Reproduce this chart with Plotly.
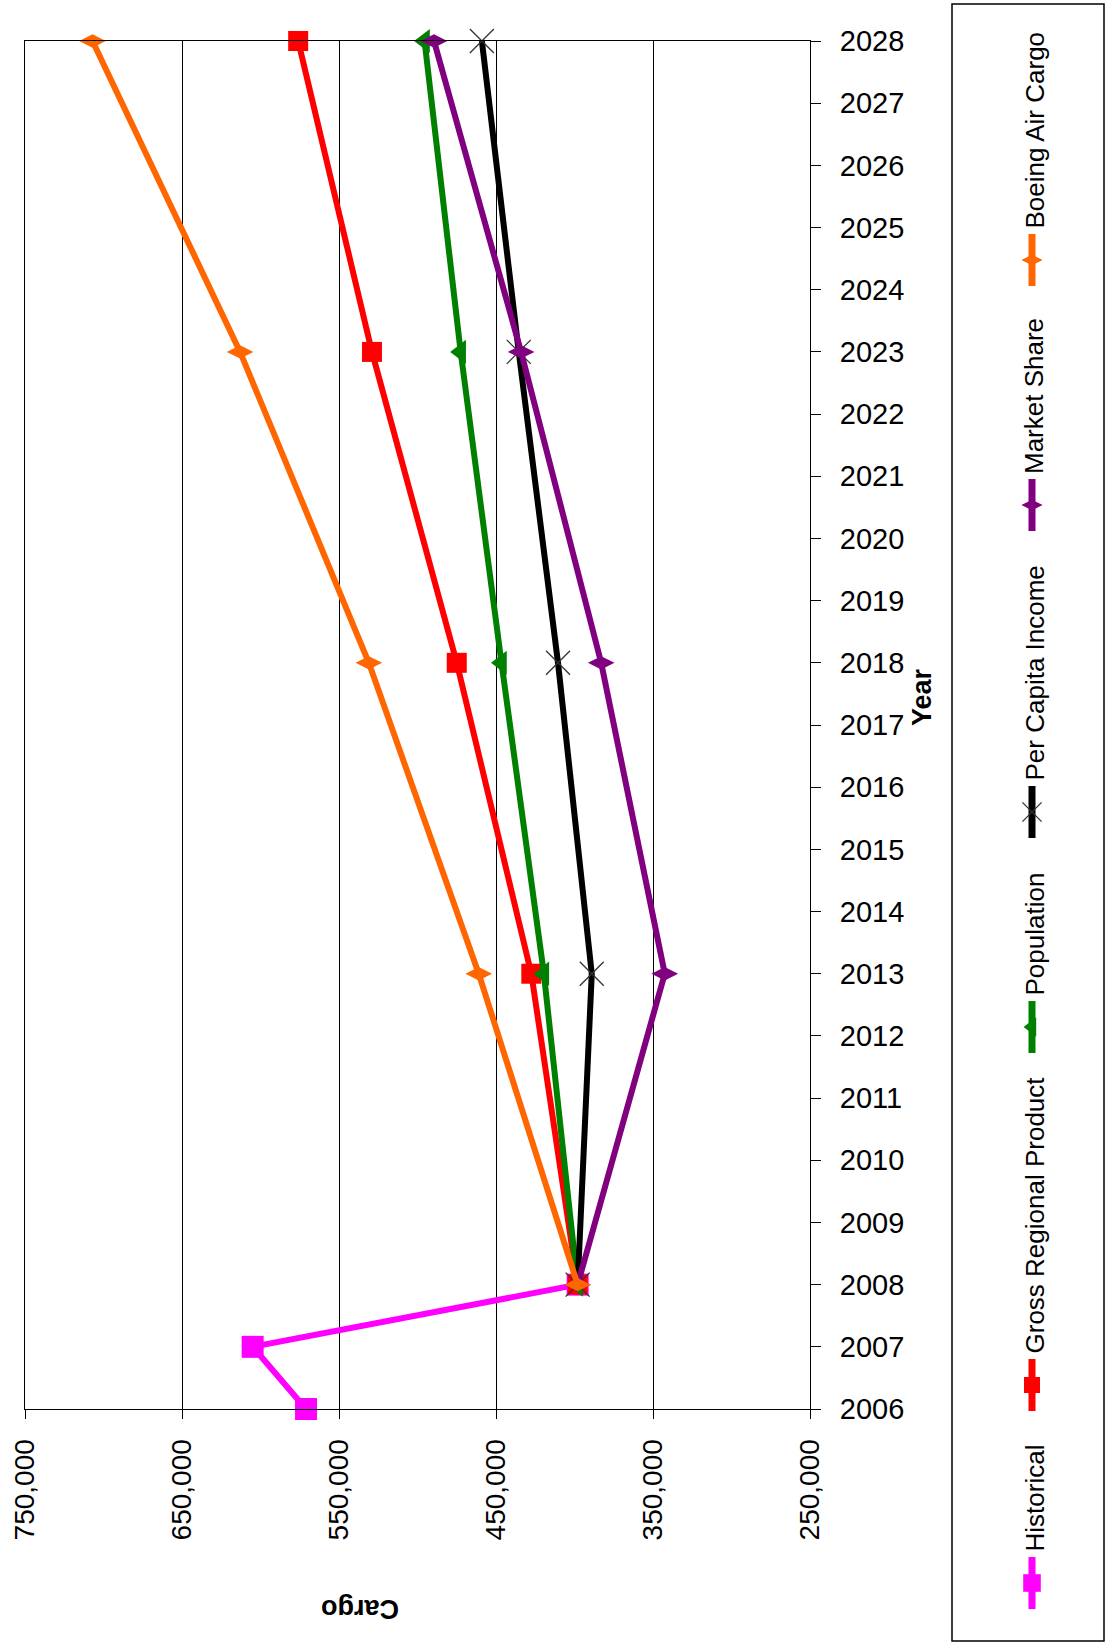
import plotly.graph_objects as go

# ---------------- data ----------------
years_hist = [2006, 2007, 2008]
historical = [571000, 605000, 398000]

years_fc = [2008, 2013, 2018, 2023, 2028]
gross_regional_product = [398000, 427500, 475000, 529000, 576000]
population = [398000, 419500, 446500, 472500, 495500]
per_capita_income = [398000, 389000, 410500, 435500, 459000]
market_share = [398000, 342500, 383000, 434000, 489500]
boeing_air_cargo = [398000, 461000, 531000, 613000, 707000]

cargo_ticks = [750000, 650000, 550000, 450000, 350000, 250000]
year_ticks = list(range(2006, 2029))

series_names = ["Historical", "Gross Regional Product", "Population",
                "Per Capita Income", "Market Share", "Boeing Air Cargo"]
# ---------------------------------------

W, H = 1107, 1644
FONT = "Liberation Sans, Arial, sans-serif"

styles = {
    "Historical": dict(color="#FF00FF", symbol="square", size=22, lw=0),
    "Gross Regional Product": dict(color="#FF0000", symbol="square", size=20, lw=0),
    "Population": dict(color="#008000", symbol="triangle-left", size=21, lw=0),
    "Per Capita Income": dict(color="#000000", symbol="x-thin", size=24, lw=1.3),
    "Market Share": dict(color="#800080", symbol="diamond-wide", size=19, lw=0),
    "Boeing Air Cargo": dict(color="#FF6600", symbol="diamond-wide", size=19, lw=0),
}
data = {
    "Historical": (years_hist, historical),
    "Gross Regional Product": (years_fc, gross_regional_product),
    "Population": (years_fc, population),
    "Per Capita Income": (years_fc, per_capita_income),
    "Market Share": (years_fc, market_share),
    "Boeing Air Cargo": (years_fc, boeing_air_cargo),
}

def marker_of(st, scale=1.0):
    m = dict(symbol=st["symbol"], size=st["size"] * scale, color=st["color"])
    if st["symbol"].endswith("thin"):
        m["line"] = dict(color="#333333", width=st["lw"])
    else:
        m["line"] = dict(width=0)
    return m

fig = go.Figure()

for name in series_names:
    yrs, vals = data[name]
    st = styles[name]
    fig.add_trace(go.Scatter(
        x=vals, y=yrs, mode="lines+markers", name=name,
        line=dict(color=st["color"], width=6),
        marker=marker_of(st), cliponaxis=False, showlegend=False,
        xaxis="x", yaxis="y"))

# ---- manual (rotated) legend drawn in pixel space on x2/y2 ----
legend_centers = {"Boeing Air Cargo": 260, "Market Share": 505,
                  "Per Capita Income": 812, "Population": 1027,
                  "Gross Regional Product": 1385, "Historical": 1583}
LX = 1032
for name in series_names:
    st = styles[name]
    c = legend_centers[name]
    fig.add_trace(go.Scatter(
        x=[LX, LX], y=[c - 26, c + 26], mode="lines",
        line=dict(color=st["color"], width=7), showlegend=False,
        xaxis="x2", yaxis="y2", hoverinfo="skip", cliponaxis=False))
    fig.add_trace(go.Scatter(
        x=[LX], y=[c], mode="markers", marker=marker_of(st, 0.8),
        showlegend=False, xaxis="x2", yaxis="y2", hoverinfo="skip",
        cliponaxis=False))
    fig.add_annotation(
        x=LX + 2, y=c - 29, xref="x2", yref="y2", text=name, textangle=-90,
        showarrow=False, xanchor="center", yanchor="bottom",
        font=dict(family=FONT, size=26, color="#000000"))

fig.add_shape(type="rect", xref="x2", yref="y2", x0=952, x1=1104, y0=4, y1=1641,
              line=dict(color="#000000", width=1.5), fillcolor="rgba(0,0,0,0)")

# axis titles
fig.add_annotation(x=922, y=697, xref="x2", yref="y2", text="<b>Year</b>",
                   textangle=-90, showarrow=False,
                   font=dict(family=FONT, size=27, color="#000000"))
fig.add_annotation(x=360, y=1609, xref="x2", yref="y2", text="<b>Cargo</b>",
                   textangle=180, showarrow=False,
                   font=dict(family=FONT, size=27, color="#000000"))

PL, PR, PT, PB = 25, 810, 41, 1409
fig.update_layout(
    template="none",
    width=W, height=H, autosize=False,
    margin=dict(l=0, r=0, t=0, b=0, pad=0),
    paper_bgcolor="#FFFFFF", plot_bgcolor="rgba(0,0,0,0)",
    font=dict(family=FONT, color="#000000"),
    xaxis=dict(domain=[PL / W, PR / W], anchor="y",
               range=[750000, 250000], tickvals=cargo_ticks, tickformat=",",
               tickangle=-90, ticks="outside", ticklen=9, tickwidth=1,
               tickcolor="#000000", showgrid=True, gridcolor="#000000",
               gridwidth=1, showline=True, linecolor="#000000", linewidth=1,
               mirror=True, zeroline=False, automargin=False,
               tickfont=dict(family=FONT, size=28, color="#000000"),
               ticklabelstandoff=9),
    yaxis=dict(domain=[1 - PB / H, 1 - PT / H], anchor="x", side="right",
               range=[2006, 2028], tickvals=year_ticks, ticks="outside",
               ticklen=10, tickwidth=1, tickcolor="#000000", showgrid=False,
               showline=True, linecolor="#000000", linewidth=1, mirror=True,
               zeroline=False, automargin=False,
               tickfont=dict(family=FONT, size=29, color="#000000"),
               ticklabelstandoff=13),
    xaxis2=dict(domain=[0, 1], anchor="y2", range=[0, W], visible=False,
                fixedrange=True),
    yaxis2=dict(domain=[0, 1], anchor="x2", range=[H, 0], visible=False,
                fixedrange=True),
)

fig.write_html("out.html", config={"displayModeBar": False})
